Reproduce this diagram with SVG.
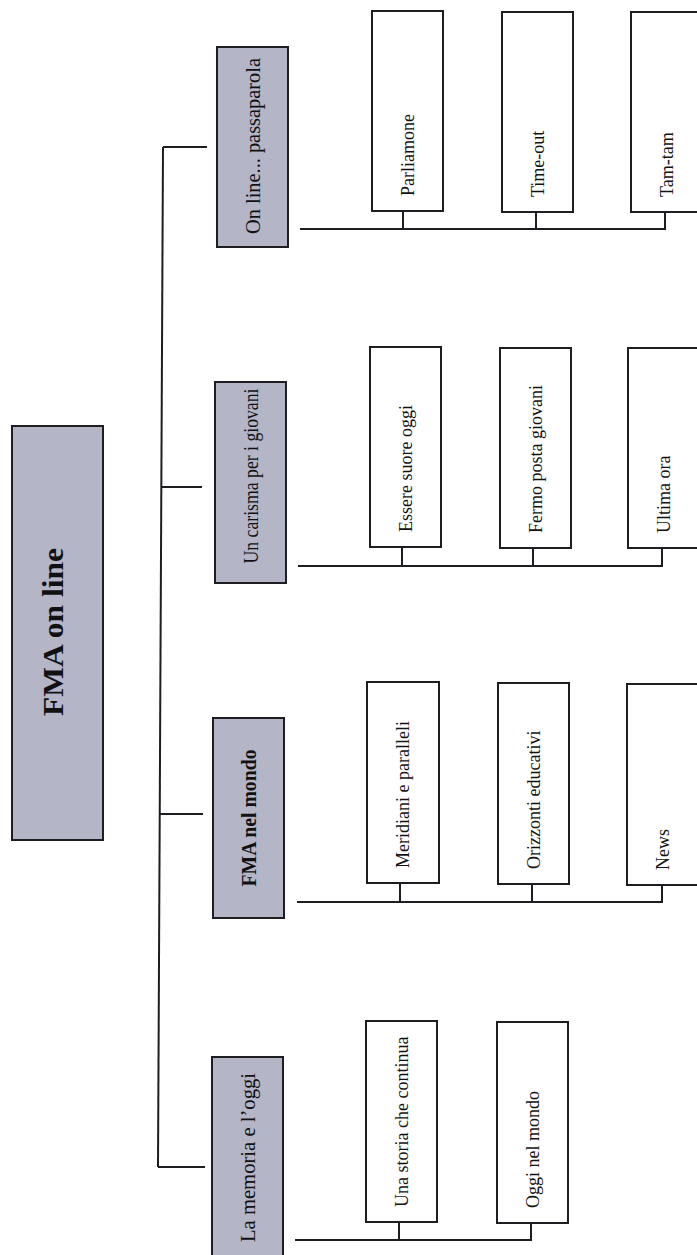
<svg xmlns="http://www.w3.org/2000/svg" width="697" height="1255" viewBox="0 0 697 1255">
<style>
.bg{fill:#ffffff}
.shade{fill:#b4b5c7;stroke:#1e1e22;stroke-width:2}
.plain{fill:#ffffff;stroke:#1e1e22;stroke-width:2}
.conn{fill:none;stroke:#1e1e22;stroke-width:2}
text{font-family:"Liberation Serif","Times New Roman",serif;fill:#111}
.root{font-size:30px;font-weight:bold;text-anchor:middle}
.l1{font-size:20px;text-anchor:middle}
.l1b{font-size:20px;font-weight:bold;text-anchor:middle}
.l2{font-size:18px;text-anchor:start}
</style>
<rect class="bg" x="0" y="0" width="697" height="1255"/>
<g id="connectors">
<path class="conn" d="M163,147 L158,1167"/>
<path class="conn" d="M163,147 H207 M162,487 H202 M160,814 H203 M158,1167 H205"/>
<path class="conn" d="M300,229 H665 V212 M403,211 V229 M536,212 V229"/>
<path class="conn" d="M298,566 H662 V548 M402,547 V566 M533,548 V566"/>
<path class="conn" d="M297,902 H662 V885 M400,883 V902 M532,884 V902"/>
<path class="conn" d="M295,1240 H531 V1223 M399,1222 V1240"/>
</g>
<g id="root">
<rect class="shade" x="12" y="426" width="91" height="414"/>
<text class="root" transform="translate(63,632) rotate(-90)" textLength="168" lengthAdjust="spacingAndGlyphs">FMA on line</text>
</g>
<g id="n-online">
<rect class="shade" x="217" y="47" width="71" height="200"/>
<text class="l1" transform="translate(259.5,146) rotate(-90)" textLength="176" lengthAdjust="spacingAndGlyphs">On line... passaparola</text>
</g>
<g id="n-carisma">
<rect class="shade" x="215" y="382" width="71" height="201"/>
<text class="l1" transform="translate(257.5,476) rotate(-90)" textLength="175" lengthAdjust="spacingAndGlyphs">Un carisma per i giovani</text>
</g>
<g id="n-mondo">
<rect class="shade" x="213" y="718" width="71" height="200"/>
<text class="l1b" transform="translate(255.5,818) rotate(-90)" textLength="137" lengthAdjust="spacingAndGlyphs">FMA nel mondo</text>
</g>
<g id="n-memoria">
<rect class="shade" x="212" y="1057" width="71" height="202"/>
<text class="l1" transform="translate(254.5,1157.5) rotate(-90)" textLength="169" lengthAdjust="spacingAndGlyphs">La memoria e l’oggi</text>
</g>
<g id="c-parliamone">
<rect class="plain" x="372" y="11" width="71" height="200"/>
<text class="l2" transform="translate(413.5,196) rotate(-90)">Parliamone</text>
</g>
<g id="c-timeout">
<rect class="plain" x="502" y="12" width="71" height="200"/>
<text class="l2" transform="translate(543.5,197) rotate(-90)">Time-out</text>
</g>
<g id="c-tamtam">
<rect class="plain" x="631" y="12" width="71" height="200"/>
<text class="l2" transform="translate(672.5,197) rotate(-90)">Tam-tam</text>
</g>
<g id="c-essere">
<rect class="plain" x="370" y="347" width="71" height="200"/>
<text class="l2" transform="translate(411.5,532) rotate(-90)">Essere suore oggi</text>
</g>
<g id="c-fermo">
<rect class="plain" x="500" y="348" width="71" height="200"/>
<text class="l2" transform="translate(541.5,533) rotate(-90)">Fermo posta giovani</text>
</g>
<g id="c-ultima">
<rect class="plain" x="628" y="348" width="71" height="200"/>
<text class="l2" transform="translate(669.5,533) rotate(-90)">Ultima ora</text>
</g>
<g id="c-meridiani">
<rect class="plain" x="367" y="682" width="72" height="201"/>
<text class="l2" transform="translate(409,868) rotate(-90)">Meridiani e paralleli</text>
</g>
<g id="c-orizzonti">
<rect class="plain" x="498" y="683" width="71" height="201"/>
<text class="l2" transform="translate(539.5,869) rotate(-90)">Orizzonti educativi</text>
</g>
<g id="c-news">
<rect class="plain" x="627" y="684" width="71" height="201"/>
<text class="l2" transform="translate(668.5,870) rotate(-90)">News</text>
</g>
<g id="c-storia">
<rect class="plain" x="366" y="1021" width="71" height="201"/>
<text class="l2" transform="translate(407.5,1207) rotate(-90)">Una storia che continua</text>
</g>
<g id="c-oggi">
<rect class="plain" x="497" y="1022" width="71" height="201"/>
<text class="l2" transform="translate(538.5,1208) rotate(-90)">Oggi nel mondo</text>
</g>
</svg>
